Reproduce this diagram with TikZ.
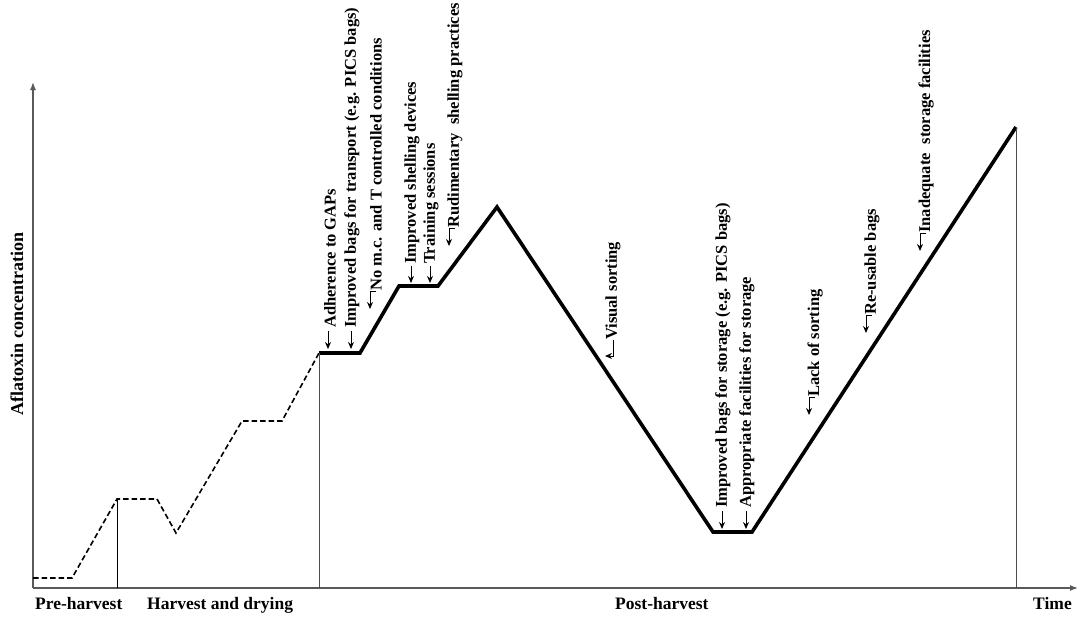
\documentclass[tikz,border=0pt]{standalone}
\usepackage{fontspec}
\setmainfont{Liberation Serif}
\usetikzlibrary{arrows.meta}
\tikzset{
  axisline/.style={draw=black!65, line width=1.3pt},
  divider/.style={draw=black!70, line width=0.9pt},
  curve/.style={line width=3.6pt, line join=miter, line cap=butt},
  dashcurve/.style={line width=1.6pt, dash pattern=on 5.5pt off 3pt},
  vlabel/.style={rotate=90, anchor=west, inner sep=0pt, font=\fontsize{16.5}{18}\selectfont\bfseries},
  hlabel/.style={anchor=base west, inner sep=0pt, font=\fontsize{17.5}{20}\selectfont\bfseries},
  pin/.style={line width=1pt, -{Stealth[length=7pt,width=6pt]}},
}
\begin{document}
\begin{tikzpicture}[x=1pt,y=-1pt]
\useasboundingbox (0,0) rectangle (1078,622);
% axes
\coordinate (O) at (33,588);
\coordinate (Ytop) at (33,82);
\coordinate (Xend) at (1078,588);
\draw[axisline,-{Latex[length=8pt,width=6pt]}] (O) -- (Ytop);
\draw[axisline,-{Latex[length=8pt,width=6pt]}] (O) -- (Xend);
% dashed part
\coordinate (d0) at (33,578);
\coordinate (d1) at (72,578);
\coordinate (d2) at (117,499);
\coordinate (d3) at (157,499);
\coordinate (d4) at (176,533);
\coordinate (d5) at (242,421);
\coordinate (d6) at (282,421);
\coordinate (p0) at (319,353);
\draw[dashcurve] (d0) -- (d1) -- (d2) -- (d3) -- (d4) -- (d5) -- (d6) -- (p0);
% solid part
\coordinate (p1) at (360,353);
\coordinate (p2) at (399,286);
\coordinate (p3) at (438,286);
\coordinate (p4) at (497,207);
\coordinate (p5) at (713,532);
\coordinate (p6) at (752,532);
\coordinate (p7) at (1016,127);
\draw[curve] (p0) -- (p1) -- (p2) -- (p3) -- (p4) -- (p5) -- (p6) -- (p7);
% dividers
\coordinate (b1) at (117,588);
\coordinate (b2) at (319,588);
\coordinate (b3) at (1016,588);
\draw[divider, draw=black] (d2) -- (b1);
\draw[divider] (p0) -- (b2);
\draw[divider] (p7) -- (b3);
% horizontal labels
\node[hlabel] (pre) at (35,609) {Pre-harvest};
\node[hlabel] (har) at (147,609) {Harvest and drying};
\node[hlabel] (post) at (615,609) {Post-harvest};
\node[hlabel] (time) at (1033,609) {Time};
\node[rotate=90, inner sep=0pt, font=\fontsize{18}{20}\selectfont\bfseries] (ylab) at (17,324) {Aflatoxin concentration};
% vertical labels with straight arrows
\node[vlabel] (l1) at (330,328) {Adherence to GAPs};
\draw[pin] (328,331) -- (328,349);
\node[vlabel] (l2) at (352,328) {Improved bags for transport (e.g. PICS bags)};
\draw[pin] (351,331) -- (351,349);
\node[vlabel] (l4) at (412,264) {Improved shelling devices};
\draw[pin] (411,266) -- (411,283);
\node[vlabel] (l5) at (431,264) {Training sessions};
\draw[pin] (430,266) -- (430,283);
\node[vlabel] (l8) at (723,508) {Improved bags for storage (e.g. PICS bags)};
\draw[pin] (722,511) -- (722,529);
\node[vlabel] (l9) at (747,508) {Appropriate facilities for storage};
\draw[pin] (746,511) -- (746,529);
% vertical labels with hooked arrows
\node[vlabel] (l3) at (376,291) {No m.c. and T controlled conditions};
\draw[pin] (l3.west) -- ++(-6,0) -- ++(0,18);
\node[vlabel] (l6) at (455,228) {Rudimentary\; shelling practices};
\draw[pin] (l6.west) -- ++(-6,0) -- ++(0,18);
\node[vlabel] (l7) at (613,340) {Visual sorting};
\draw[pin] (l7.west) -- ++(0,16) -- ++(-8,0);
\node[vlabel] (l10) at (815,397) {Lack of sorting};
\draw[pin] (l10.west) -- ++(-6,0) -- ++(0,18);
\node[vlabel] (l11) at (872,315) {Re-usable bags};
\draw[pin] (l11.west) -- ++(-6,0) -- ++(0,18);
\node[vlabel] (l12) at (926,233) {Inadequate\; storage facilities};
\draw[pin] (l12.west) -- ++(-6,0) -- ++(0,18);
\end{tikzpicture}
\end{document}
